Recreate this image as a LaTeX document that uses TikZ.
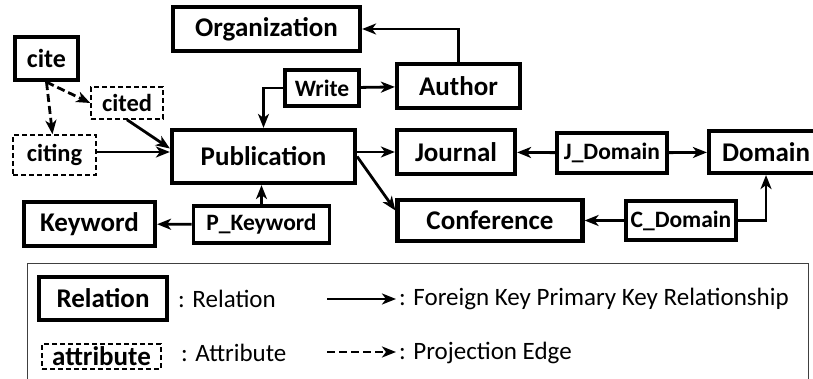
\documentclass[tikz,border=0pt]{standalone}
\usepackage{fontspec}
\setmainfont{Carlito}
\usetikzlibrary{arrows.meta,positioning}
\tikzset{
  rel/.style    = {draw, line width=4.2pt, align=center, inner sep=0pt,
                   font=\fontsize{27}{30}\selectfont\bfseries},
  relsm/.style  = {rel, line width=3.8pt,
                   font=\fontsize{23.5}{27}\selectfont\bfseries},
  attr/.style   = {draw, dashed, line width=1.5pt, dash pattern=on 5pt off 3pt,
                   align=center, inner sep=0pt,
                   font=\fontsize{24.5}{28}\selectfont\bfseries},
  fk/.style     = {-{Stealth[length=14pt,width=11pt,inset=4pt]}, line width=2.8pt},
  proj/.style   = {fk, dash pattern=on 8pt off 4pt},
  legtxt/.style = {anchor=west, inner sep=0pt, font=\fontsize{25}{29}\selectfont},
}
\begin{document}
\begin{tikzpicture}[x=1pt, y=-1pt]
  \useasboundingbox (0,0) rectangle (813,379);
  \begin{scope}
  \clip (0,0) rectangle (813,379);
  % relations
  \node[rel, minimum width=187, minimum height=44] (org) at (266.5,29) {Organization};
  \node[rel, minimum width=63, minimum height=43, font=\fontsize{26}{30}\selectfont\bfseries] (cite) at (46.5,58.5) {cite};
  \node[relsm, minimum width=74, minimum height=36] (write) at (322,88) {Write};
  \node[rel, minimum width=123, minimum height=44] (author) at (458.5,86) {Author};
  \node[rel, minimum width=183, minimum height=53] (pub) at (263.5,156.5) {Publication};
  \node[rel, minimum width=118, minimum height=44] (journal) at (456,152) {Journal};
  \node[relsm, minimum width=110, minimum height=40] (jdom) at (612,153) {J\_Domain};
  \node[rel, minimum width=114, minimum height=42] (domain) at (766,152) {Domain};
  \node[rel, minimum width=185, minimum height=41] (conf) at (490,220.5) {Conference};
  \node[relsm, minimum width=110, minimum height=39] (cdom) at (681,220.5) {C\_Domain};
  \node[rel, minimum width=131, minimum height=44] (keyword) at (89.5,224) {Keyword};
  \node[relsm, minimum width=136, minimum height=37] (pkw) at (261.5,224.5) {P\_Keyword};
  % attributes
  \node[attr, minimum width=72, minimum height=32] (cited) at (127,103) {cited};
  \node[attr, minimum width=83, minimum height=40] (citing) at (54.5,155) {citing};

  % edges
  \draw[fk] (author.north) |- (org.east);
  \draw[fk] (write) -- (author);
  \draw[fk] (write.west) -| (pub.north);
  \draw[proj] (cite.south) -- (cited.west);
  \draw[proj] (cite.south) -- ([xshift=-2pt]citing.north);
  \draw[fk] (cited.south) -- ([yshift=8pt]pub.west);
  \draw[fk] ([yshift=3pt]citing.east) -- ([yshift=3pt]citing.east -| pub.west);
  \draw[fk] (pub.east |- journal) -- (journal);
  \draw[fk] (pub.east) -- ([yshift=10pt]conf.west);
  \draw[fk] (jdom) -- (journal);
  \draw[fk] (jdom) -- (domain);
  \draw[fk] (cdom) -- (conf);
  \draw[fk] (cdom.east) -| (domain.south);
  \draw[fk] (pkw.north) -- (pkw.north |- pub.south);
  \draw[fk] (pkw) -- (keyword);

  % legend
  \draw[line width=0.9pt, black!75] (27,390) |- (808,263) -- (808,390);
  \node[rel, minimum width=128, minimum height=43] (legrel) at (103,298.5) {Relation};
  \node[legtxt] (legreltxt) at (178,299) {: Relation};
  \node[attr, minimum width=119, minimum height=25, font=\fontsize{27}{30}\selectfont\bfseries] (legattr) at (101.5,356.5) {attribute};
  \node[legtxt] (legattrtxt) at (181,353) {: Attribute};
  \coordinate (fka) at (327,299);
  \coordinate (fkb) at (396,299);
  \coordinate (pja) at (327,352);
  \coordinate (pjb) at (396,352);
  \draw[fk] (fka) -- (fkb);
  \draw[proj] (pja) -- (pjb);
  \node[legtxt] (legfktxt) at (399,299) {: Foreign Key Primary Key Relationship};
  \node[legtxt] (legpjtxt) at (399,353) {: Projection Edge};
  \end{scope}
\end{tikzpicture}
\end{document}
